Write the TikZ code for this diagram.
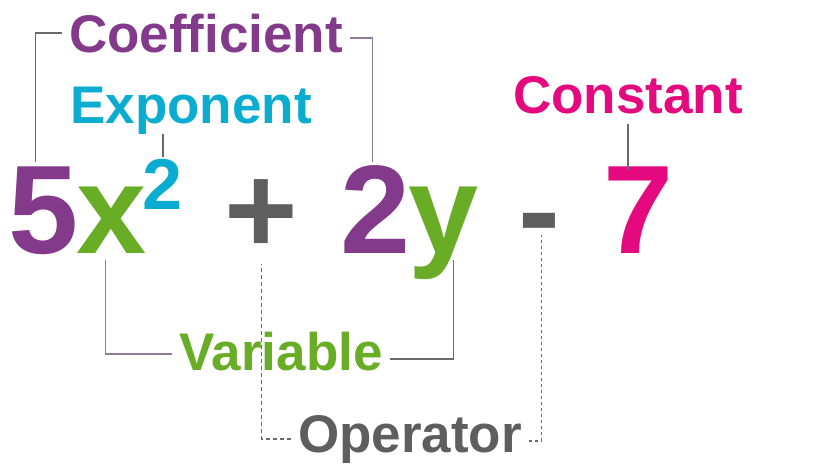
\documentclass[tikz,border=0pt]{standalone}
\usepackage{fontspec}
\setmainfont{Liberation Sans}
\usetikzlibrary{positioning}
\definecolor{coefpurple}{HTML}{843A8B}
\definecolor{expocyan}{HTML}{0AACCF}
\definecolor{vargreen}{HTML}{69AD27}
\definecolor{opgray}{HTML}{5E5E5E}
\definecolor{constpink}{HTML}{E4097E}
\definecolor{linegray}{HTML}{6A6A6A}
\definecolor{linepurple}{HTML}{8F7A99}

\begin{document}
\begin{tikzpicture}[x=1pt, y=-1pt, node distance=68pt]
\tikzstyle{glyph}=[inner sep=0pt, text height=91pt, text depth=0pt, font=\fontsize{126}{126}\selectfont\bfseries]
\tikzstyle{term}=[inner xsep=7pt, inner ysep=0pt, anchor=base, font=\fontsize{53}{53}\selectfont\bfseries]
\tikzstyle{stem}=[line width=1.4pt, draw=linegray]
\useasboundingbox (0,0) rectangle (840,466);

% the expression
\node[glyph, text=coefpurple] (five)  at (44,207.5)                    {5};
\node[glyph, text=vargreen]   (varx)  [right of=five]                  {x};
\node[glyph, text=expocyan, text height=52pt, font=\fontsize{72}{72}\selectfont\bfseries]
                              (sq)    [node distance=51pt, right of=varx, yshift=24pt] {2};
\node[glyph, text=opgray]     (plus)  [node distance=149.5pt, right of=varx] {+};
\node[glyph, text=coefpurple] (two)   [node distance=114pt, right of=plus]  {2};
\node[glyph, text=vargreen]   (vary)  [right of=two]                   {y};
\node[glyph, text=opgray]     (minus) [node distance=95.5pt, right of=vary] {-};
\node[glyph, text=constpink]  (seven) [node distance=99.5pt, right of=minus] {7};

% the names
\node[term, text=coefpurple] (coef)  at (206,52)  {Coefficient};
\node[term, text=expocyan]   (expo)  at (191,123) {Exponent};
\node[term, text=constpink]  (const) at (628,113) {Constant};
\node[term, text=vargreen]   (var)   at (281,370) {Variable};
\node[term, text=opgray]     (oper)  at (410,452) {Operator};

\draw[stem] (coef.west) -| ([xshift=-8.5pt]five.north);
\draw[stem, draw=linepurple] ([yshift=-5pt]coef.east) -| ([xshift=-3pt]two.north);
\draw[stem] (expo.south -| sq.north) -- (sq.north);
\draw[stem] ([yshift=-10pt]const.south) -- ([yshift=-8pt]seven.north -| const.south);
\draw[stem, draw=linepurple] ([yshift=-3pt]var.west) -| ([xshift=-6.5pt,yshift=-7pt]varx.south);
\draw[stem] ([yshift=-8pt]var.east) -| ([xshift=10pt,yshift=-7pt]vary.south);
\draw[stem, dash pattern=on 4pt off 3pt] (oper.west) -| ([yshift=-11pt]plus.south);
\draw[stem, line width=1.8pt, draw=linepurple!80!black, dash pattern=on 3pt off 3pt] ([yshift=-2pt]oper.east) -| ([xshift=2.5pt,yshift=18pt]minus.south);
\end{tikzpicture}
\end{document}
